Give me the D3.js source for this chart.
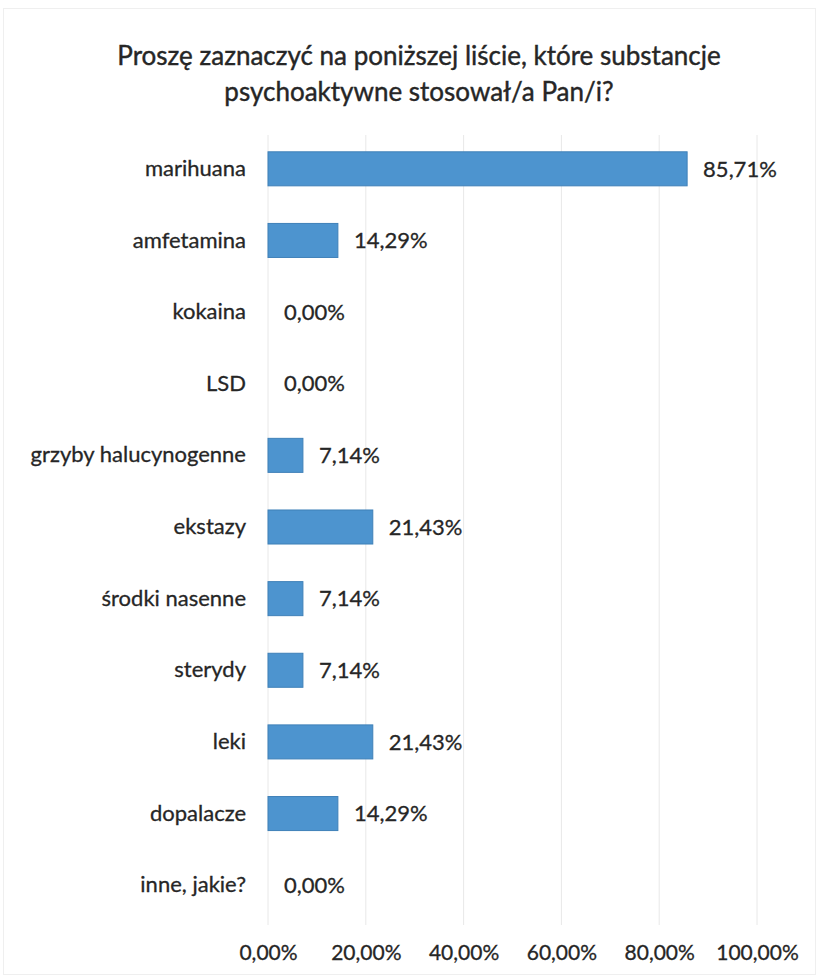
<!DOCTYPE html>
<html><head><meta charset="utf-8">
<script src="https://cdn.jsdelivr.net/npm/d3@7"></script>
<style>body{margin:0;background:#fff}svg{display:block}</style>
</head><body>
<script>
const categories = ["marihuana","amfetamina","kokaina","LSD","grzyby halucynogenne","ekstazy","środki nasenne","sterydy","leki","dopalacze","inne, jakie?"];
const values = [85.71,14.29,0,0,7.14,21.43,7.14,7.14,21.43,14.29,0];
const ticks = [0,20,40,60,80,100];
const titleLines = ["Proszę zaznaczyć na poniższej liście, które substancje","psychoaktywne stosował/a Pan/i?"];

const W=823,H=980;
const font="Lato, 'Open Sans', sans-serif";
const ink="#262626";
const svg=d3.select("body").append("svg").attr("width",W).attr("height",H);
svg.append("rect").attr("x",0).attr("y",0).attr("width",W).attr("height",H).attr("fill","#fff");
svg.append("rect").attr("x",3.5).attr("y",8.5).attr("width",812).attr("height",966).attr("fill","none").attr("stroke","#efefef");

const x=d3.scaleLinear().domain([0,100]).range([268,757]);
const y=d3.scaleBand().domain(categories).range([133,921]).paddingInner(0.525).paddingOuter(0.2625);
const fmt=v=>v.toFixed(2).replace(".",",")+"%";

svg.append("g").selectAll("text").data(titleLines).join("text")
 .attr("x",419).attr("y",(d,i)=>65+i*36).attr("text-anchor","middle")
 .attr("font-family",font).attr("font-size",26).attr("fill",ink)
 .attr("stroke",ink).attr("stroke-width",0.4).text(d=>d);

svg.append("g").selectAll("line").data(ticks).join("line")
 .attr("x1",d=>x(d)).attr("x2",d=>x(d)).attr("y1",135).attr("y2",925)
 .attr("stroke","#e8e8e8").attr("stroke-width",1);

const xAxis=svg.append("g").attr("transform","translate(0,925)")
 .call(d3.axisBottom(x).tickValues(ticks).tickFormat(fmt).tickSize(0).tickPadding(20));
xAxis.select(".domain").remove();
xAxis.selectAll("text").attr("font-family",font).attr("font-size",21).attr("fill",ink)
 .attr("stroke",ink).attr("stroke-width",0.3);

const yAxis=svg.append("g").attr("transform","translate(246,0)")
 .call(d3.axisLeft(y).tickSize(0).tickPadding(0));
yAxis.select(".domain").remove();
yAxis.selectAll("text").attr("font-family",font).attr("font-size",22).attr("fill",ink)
 .attr("stroke",ink).attr("stroke-width",0.3);

svg.append("g").selectAll("rect").data(values).join("rect")
 .attr("x",x(0)).attr("y",(d,i)=>y(categories[i])).attr("width",d=>x(d)-x(0)).attr("height",y.bandwidth())
 .attr("fill",d=>d>0?"#4d94cf":"none").attr("stroke",d=>d>0?"#3f80b8":"none").attr("stroke-width",1);

svg.append("g").selectAll("text").data(values).join("text")
 .attr("x",d=>x(d)+16).attr("y",(d,i)=>y(categories[i])+y.bandwidth()/2).attr("dy","0.35em")
 .attr("font-family",font).attr("font-size",22).attr("fill",ink)
 .attr("stroke",ink).attr("stroke-width",0.3).text(fmt);
</script>
</body></html>
